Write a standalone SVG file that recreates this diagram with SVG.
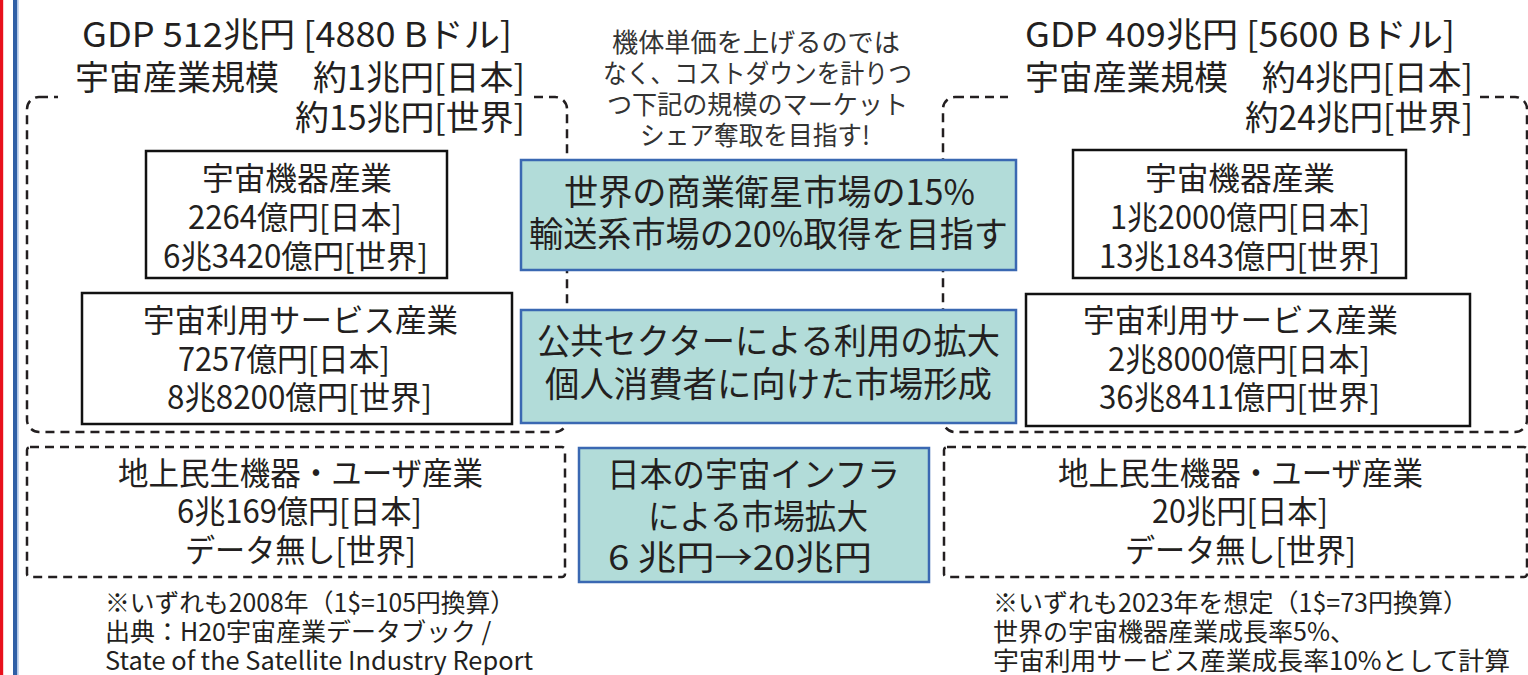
<svg xmlns="http://www.w3.org/2000/svg" width="1528" height="675" viewBox="0 0 1528 675">
<style>
text{font-family:"Noto Sans CJK JP","Noto Sans",sans-serif;fill:#231f20}
.t34{font-size:34px}
.t32{font-size:32px}
.t35{font-size:35px}
.t26{font-size:26px;fill:#333}
.t25{font-size:25px}
.dash{fill:none;stroke:#231f20;stroke-width:2.5;stroke-dasharray:9 6}
.box{fill:#fff;stroke:#111;stroke-width:2.5}
.teal{fill:#b2dcd9;stroke:#3a68b2;stroke-width:2.5}
</style>
<rect width="1528" height="675" fill="#fff"/>
<g id="edge-lines">
<rect x="0" y="0" width="3.2" height="675" fill="#e8101c"/>
<rect x="13" y="0" width="4.2" height="675" fill="#2f5fa6"/>
<rect x="17.2" y="0" width="1.4" height="675" fill="#a9c1e4"/>
</g>
<g id="regions">
<rect class="dash" x="27" y="97" width="540" height="335" rx="12"/>
<rect class="dash" x="943" y="97" width="584" height="335" rx="12"/>
<rect class="dash" x="27" y="447" width="538" height="130" rx="3"/>
<rect class="dash" x="944" y="447" width="583" height="130" rx="3"/>
</g>
<g id="title-left">
<rect x="58" y="58" width="474" height="42" fill="#fff"/>
<text class="t34" x="82" y="47" textLength="430" lengthAdjust="spacingAndGlyphs">GDP 512兆円 [4880 Bドル]</text>
<text class="t34" x="75" y="90" textLength="450" lengthAdjust="spacingAndGlyphs">宇宙産業規模　約1兆円[日本]</text>
<text class="t34" x="295" y="130" textLength="230" lengthAdjust="spacingAndGlyphs">約15兆円[世界]</text>
</g>
<g id="title-right">
<rect x="1008" y="58" width="472" height="42" fill="#fff"/>
<text class="t34" x="1025" y="47" textLength="430" lengthAdjust="spacingAndGlyphs">GDP 409兆円 [5600 Bドル]</text>
<text class="t34" x="1025" y="90" textLength="448" lengthAdjust="spacingAndGlyphs">宇宙産業規模　約4兆円[日本]</text>
<text class="t34" x="1245" y="130" textLength="228" lengthAdjust="spacingAndGlyphs">約24兆円[世界]</text>
</g>
<g id="center-note">
<text class="t26" x="612" y="52" textLength="288" lengthAdjust="spacingAndGlyphs">機体単価を上げるのでは</text>
<text class="t26" x="603" y="83" textLength="309" lengthAdjust="spacingAndGlyphs">なく、コストダウンを計りつ</text>
<text class="t26" x="607" y="114" textLength="301" lengthAdjust="spacingAndGlyphs">つ下記の規模のマーケット</text>
<text class="t26" x="640" y="145" textLength="230" lengthAdjust="spacingAndGlyphs">シェア奪取を目指す!</text>
</g>
<g id="goal-share">
<rect class="teal" x="521" y="160" width="495" height="110"/>
<text class="t35" x="564" y="205" textLength="411" lengthAdjust="spacingAndGlyphs">世界の商業衛星市場の15%</text>
<text class="t35" x="529" y="247" textLength="479" lengthAdjust="spacingAndGlyphs">輸送系市場の20%取得を目指す</text>
</g>
<g id="goal-public">
<rect class="teal" x="521" y="310" width="495" height="113"/>
<text class="t35" x="537" y="354" textLength="463" lengthAdjust="spacingAndGlyphs">公共セクターによる利用の拡大</text>
<text class="t35" x="545" y="397" textLength="447" lengthAdjust="spacingAndGlyphs">個人消費者に向けた市場形成</text>
</g>
<g id="goal-infra">
<rect class="teal" x="579" y="448" width="350" height="134"/>
<text class="t34" x="607" y="487" textLength="293" lengthAdjust="spacingAndGlyphs">日本の宇宙インフラ</text>
<text class="t34" x="648" y="529" textLength="220" lengthAdjust="spacingAndGlyphs">による市場拡大</text>
<text class="t34" x="608" y="570" textLength="264" lengthAdjust="spacingAndGlyphs">6 兆円→20兆円</text>
</g>
<g id="left-equipment">
<rect class="box" x="146" y="151" width="301" height="127"/>
<text class="t32" x="202" y="190" textLength="190" lengthAdjust="spacingAndGlyphs">宇宙機器産業</text>
<text class="t32" x="188" y="229" textLength="214" lengthAdjust="spacingAndGlyphs">2264億円[日本]</text>
<text class="t32" x="163" y="268" textLength="265" lengthAdjust="spacingAndGlyphs">6兆3420億円[世界]</text>
</g>
<g id="left-service">
<rect class="box" x="82" y="293" width="430" height="131"/>
<text class="t32" x="143" y="332" textLength="315" lengthAdjust="spacingAndGlyphs">宇宙利用サービス産業</text>
<text class="t32" x="178" y="371" textLength="212" lengthAdjust="spacingAndGlyphs">7257億円[日本]</text>
<text class="t32" x="167" y="409" textLength="265" lengthAdjust="spacingAndGlyphs">8兆8200億円[世界]</text>
</g>
<g id="left-ground">
<text class="t32" x="118" y="485" textLength="365" lengthAdjust="spacingAndGlyphs">地上民生機器・ユーザ産業</text>
<text class="t32" x="177" y="523" textLength="245" lengthAdjust="spacingAndGlyphs">6兆169億円[日本]</text>
<text class="t32" x="185" y="562" textLength="231" lengthAdjust="spacingAndGlyphs">データ無し[世界]</text>
</g>
<g id="right-equipment">
<rect class="box" x="1073" y="150" width="333" height="128"/>
<text class="t32" x="1145" y="190" textLength="190" lengthAdjust="spacingAndGlyphs">宇宙機器産業</text>
<text class="t32" x="1110" y="229" textLength="260" lengthAdjust="spacingAndGlyphs">1兆2000億円[日本]</text>
<text class="t32" x="1099" y="268" textLength="281" lengthAdjust="spacingAndGlyphs">13兆1843億円[世界]</text>
</g>
<g id="right-service">
<rect class="box" x="1026" y="294" width="444" height="132"/>
<text class="t32" x="1083" y="332" textLength="315" lengthAdjust="spacingAndGlyphs">宇宙利用サービス産業</text>
<text class="t32" x="1108" y="371" textLength="262" lengthAdjust="spacingAndGlyphs">2兆8000億円[日本]</text>
<text class="t32" x="1099" y="409" textLength="281" lengthAdjust="spacingAndGlyphs">36兆8411億円[世界]</text>
</g>
<g id="right-ground">
<text class="t32" x="1058" y="485" textLength="365" lengthAdjust="spacingAndGlyphs">地上民生機器・ユーザ産業</text>
<text class="t32" x="1152" y="523" textLength="176" lengthAdjust="spacingAndGlyphs">20兆円[日本]</text>
<text class="t32" x="1125" y="562" textLength="231" lengthAdjust="spacingAndGlyphs">データ無し[世界]</text>
</g>
<g id="note-left">
<text class="t25" x="105" y="612" textLength="410" lengthAdjust="spacingAndGlyphs">※いずれも2008年（1$=105円換算）</text>
<text class="t25" x="105" y="641">出典：H20宇宙産業データブック /</text>
<text class="t25" x="105" y="670" textLength="428" lengthAdjust="spacingAndGlyphs">State of the Satellite Industry Report</text>
</g>
<g id="note-right">
<text class="t25" x="993" y="612">※いずれも2023年を想定（1$=73円換算）</text>
<text class="t25" x="993" y="641">世界の宇宙機器産業成長率5%、</text>
<text class="t25" x="993" y="670" textLength="517" lengthAdjust="spacingAndGlyphs">宇宙利用サービス産業成長率10%として計算</text>
</g>
</svg>
